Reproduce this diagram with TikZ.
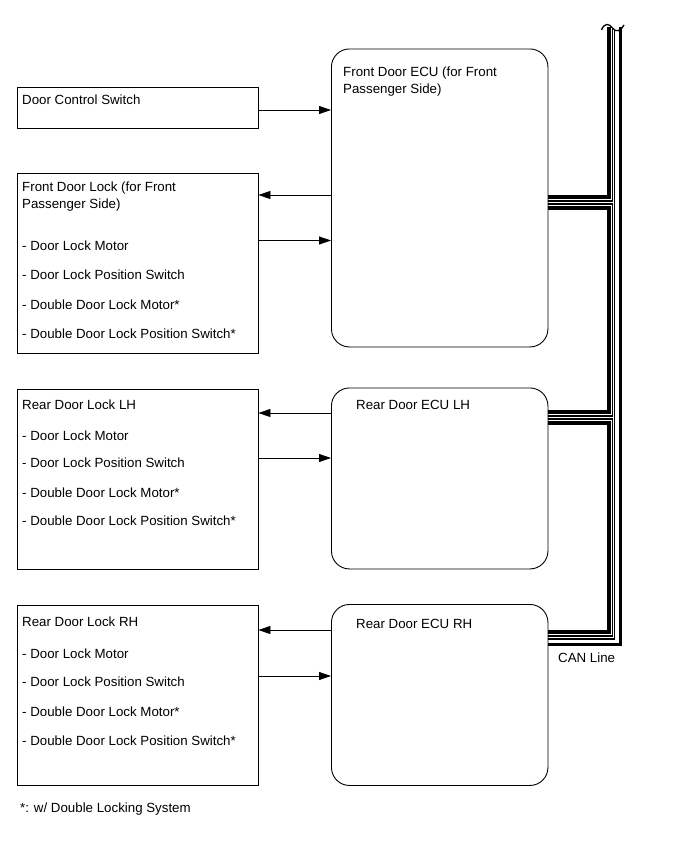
\documentclass[tikz,border=0pt]{standalone}
\usepackage{fontspec}
\setmainfont{Liberation Sans}
\usetikzlibrary{arrows.meta,positioning,calc}

\begin{document}
\begin{tikzpicture}[x=1pt,y=-1pt,
  blk/.style={draw,line width=0.9pt,anchor=north west,minimum width=241pt,inner sep=0pt},
  ecu/.style={draw,line width=0.9pt,rounded corners=18pt,anchor=north west,minimum width=216.5pt,inner sep=0pt},
  txt/.style={anchor=base west,inner sep=0pt,font=\fontsize{13.3}{16}\selectfont},
  sig/.style={-{Triangle[length=12pt,width=8pt]},line width=0.8pt},
  canA/.style={line width=3.5pt},
  canB/.style={line width=1.2pt},
  canC/.style={line width=3pt}
]
  \useasboundingbox (0,0) rectangle (689,846);

  \node[blk,minimum height=41pt] (dcs) at (16.5,86.5) {};
  \node[txt] (dcsT) at (22,104) {Door Control Switch};

  \node[ecu,minimum height=298pt] (fecu) at (331,48.5) {};
  \node[txt] (fecuT1) at (343,76) {Front Door ECU (for Front};
  \node[txt] (fecuT2) at (343,93) {Passenger Side)};

  \node[blk,minimum height=180pt] (fdl) at (16.5,172.5) {};
  \node[txt] (fdlT1) at (22,191) {Front Door Lock (for Front};
  \node[txt] (fdlT2) at (22,208) {Passenger Side)};
  \node[txt] (fdlT3) at (22,250) {- Door Lock Motor};
  \node[txt] (fdlT4) at (22,279) {- Door Lock Position Switch};
  \node[txt] (fdlT5) at (22,309) {- Double Door Lock Motor*};
  \node[txt] (fdlT6) at (22,338) {- Double Door Lock Position Switch*};

  \node[ecu,minimum height=181pt] (lecu) at (331,387.5) {};
  \node[txt] (lecuT) at (356,409) {Rear Door ECU LH};

  \node[blk,minimum height=180pt] (ldl) at (16.5,389) {};
  \node[txt] (ldlT1) at (22,409) {Rear Door Lock LH};
  \node[txt] (ldlT2) at (22,440) {- Door Lock Motor};
  \node[txt] (ldlT3) at (22,467) {- Door Lock Position Switch};
  \node[txt] (ldlT4) at (22,497) {- Double Door Lock Motor*};
  \node[txt] (ldlT5) at (22,525) {- Double Door Lock Position Switch*};

  \node[ecu,minimum height=181pt] (recu) at (331,604) {};
  \node[txt] (recuT) at (356,628) {Rear Door ECU RH};

  \node[blk,minimum height=180pt] (rdl) at (16.5,605) {};
  \node[txt] (rdlT1) at (22,626) {Rear Door Lock RH};
  \node[txt] (rdlT2) at (22,658) {- Door Lock Motor};
  \node[txt] (rdlT3) at (22,686) {- Door Lock Position Switch};
  \node[txt] (rdlT4) at (22,716) {- Double Door Lock Motor*};
  \node[txt] (rdlT5) at (22,745) {- Double Door Lock Position Switch*};

  \node[txt] (canT) at (558,662) {CAN Line};
  \node[txt] (note) at (20,812) {*: w/ Double Locking System};

  \path (dcs.north east) ++(0,23.5) coordinate (s1);
  \path (fdl.north east) ++(0,22.5) coordinate (s2) ++(0,45.5) coordinate (s3);
  \path (ldl.north east) ++(0,24) coordinate (s4) ++(0,45) coordinate (s5);
  \path (rdl.north east) ++(0,25) coordinate (s6) ++(0,46) coordinate (s7);
  \draw[sig] (s1) -- (s1 -| fecu.west);
  \draw[sig] (s2 -| fecu.west) -- (s2);
  \draw[sig] (s3) -- (s3 -| fecu.west);
  \draw[sig] (s4 -| lecu.west) -- (s4);
  \draw[sig] (s5) -- (s5 -| lecu.west);
  \draw[sig] (s6 -| recu.west) -- (s6);
  \draw[sig] (s7) -- (s7 -| recu.west);

  \coordinate (ta) at (609,27);
  \coordinate (tb) at (612.5,29);
  \coordinate (tc) at (614.5,29);
  \coordinate (td) at (620,27);
  \path (fecu.north east) ++(0,148.5) coordinate (f1) ++(0,4) coordinate (f2) ++(0,3) coordinate (f3) ++(0,4) coordinate (f4);
  \path (lecu.north east) ++(0,24.5) coordinate (l1) ++(0,4) coordinate (l2) ++(0,3) coordinate (l3) ++(0,4) coordinate (l4);
  \path (recu.north east) ++(0,28) coordinate (r1) ++(0,4) coordinate (r2) ++(0,3) coordinate (r3) ++(0,5) coordinate (r4);
  \draw[canA] (ta) |- (f1);
  \draw[canB] (tb) |- (f2);
  \draw[canB] (f3) -| (tb |- l2) -- (l2);
  \draw[canA] (f4) -| (ta |- l1) -- (l1);
  \draw[canB] (l3) -| (tb |- r2) -- (r2);
  \draw[canA] (l4) -| (ta |- r1) -- (r1);
  \draw[canB] (r3) -| (tc);
  \draw[canC] (r4) -| (td);
  \draw[line width=1.3pt] (601.5,30) .. controls (604,23) and (609,23) .. (612.5,28) .. controls (616,33) and (621,31) .. (624,25);
\end{tikzpicture}
\end{document}
